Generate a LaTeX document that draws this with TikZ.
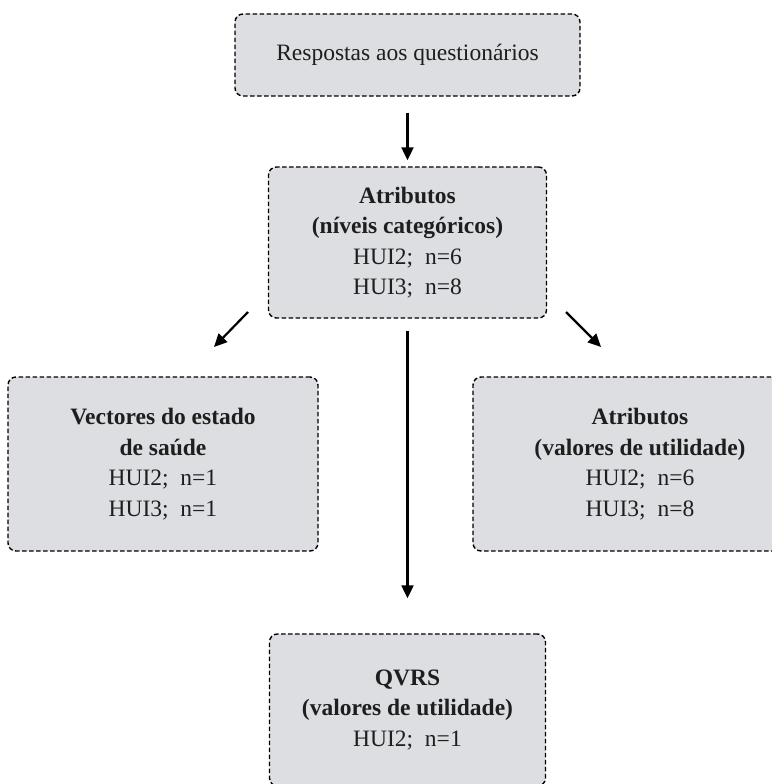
\documentclass[tikz,border=0pt]{standalone}
\usepackage{fontspec}
\setmainfont{Liberation Serif}
\usetikzlibrary{arrows.meta}

\definecolor{boxgray}{RGB}{221,222,225}
\definecolor{inkgray}{RGB}{30,30,30}

\tikzset{every picture/.style={line width=0.75pt}}
\tikzset{
  flowbox/.style={draw=black, fill=boxgray, rounded corners=8, line width=1.4,
    dash pattern=on 4.5 off 2.5, align=center, inner sep=0,
    text=inkgray, font=\fontsize{23.5}{30.5}\selectfont},
  flowarrow/.style={line width=2.2, -{Triangle[length=13,width=12]}}
}

\begin{document}
\begin{tikzpicture}[x=1pt,y=1pt,yscale=-1,xscale=1]
	\useasboundingbox (0,0) rectangle (771,784);
	
	% Boxes
	\node [flowbox, minimum width=345, minimum height=82] (resp) at (407.5,55) {Respostas aos questionários};
	\node [flowbox, minimum width=278, minimum height=151] (atrcat) at (407.5,242.5) {\textbf{Atributos}\\\textbf{(níveis categóricos)}\\HUI2;\ \ n=6\\HUI3;\ \ n=8};
	\node [flowbox, minimum width=310, minimum height=174] (vect) at (163,464) {\textbf{Vectores do estado}\\\textbf{de saúde}\\HUI2;\ \ n=1\\HUI3;\ \ n=1};
	\node [flowbox, minimum width=334, minimum height=174] (atrval) at (640,464) {\textbf{Atributos}\\\textbf{(valores de utilidade)}\\HUI2;\ \ n=6\\HUI3;\ \ n=8};
	\node [flowbox, minimum width=276, minimum height=152] (qvrs) at (407.5,710) {\textbf{QVRS}\\\textbf{(valores de utilidade)}\\HUI2;\ \ n=1};
	
	% Arrow ends
	\coordinate (leftA) at (248,312);
	\coordinate (leftB) at (214,347);
	\coordinate (rightA) at (566,312);
	\coordinate (rightB) at (601,347);
	
	% Arrows
	\draw [flowarrow, shorten <=16, shorten >=6] (resp.south) -- (atrcat.north);
	\draw [flowarrow] (leftA) -- (leftB);
	\draw [flowarrow] (rightA) -- (rightB);
	\draw [flowarrow, shorten <=12, shorten >=35] (atrcat.south) -- (qvrs.north);
	
\end{tikzpicture}
\end{document}
